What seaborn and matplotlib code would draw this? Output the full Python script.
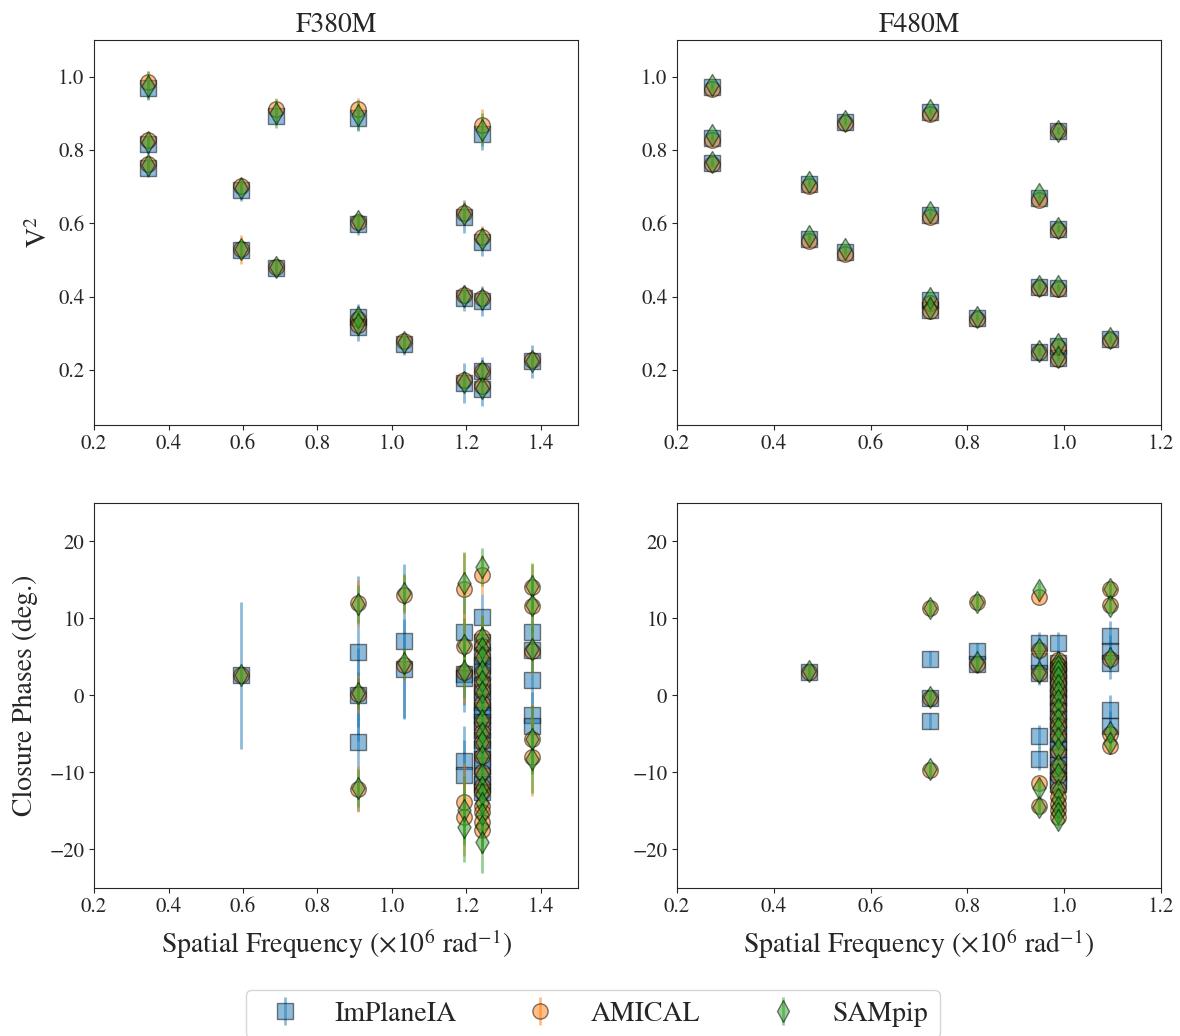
import numpy as np
import matplotlib
matplotlib.use("Agg")
import matplotlib.pyplot as plt
import seaborn as sns

sns.set_style("ticks")
plt.rcParams["font.family"] = ["STIXGeneral", "DejaVu Serif"]
plt.rcParams["mathtext.fontset"] = "stix"

methods = ["ImPlaneIA", "AMICAL", "SAMpip"]
markers = ["s", "o", "d"]
colors = sns.color_palette("tab10", 3)

# ---- squared visibilities, F380M ----
v2_freq_380 = [0.344, 0.344, 0.344, 0.596, 0.596, 0.689, 0.689, 0.910, 0.910, 0.910, 0.910,
               1.033, 1.193, 1.193, 1.193, 1.242, 1.242, 1.242, 1.242, 1.242, 1.376]
v2_380_implaneia = [0.970, 0.815, 0.752, 0.690, 0.527, 0.894, 0.478, 0.888, 0.598, 0.345, 0.318,
                    0.270, 0.618, 0.397, 0.165, 0.844, 0.550, 0.388, 0.196, 0.148, 0.224]
v2_380_amical = [0.985, 0.826, 0.763, 0.703, 0.529, 0.912, 0.482, 0.912, 0.604, 0.340, 0.322,
                 0.278, 0.629, 0.405, 0.172, 0.867, 0.562, 0.396, 0.197, 0.155, 0.226]
v2_380_sampip = [0.975, 0.822, 0.760, 0.697, 0.530, 0.900, 0.480, 0.895, 0.606, 0.344, 0.325,
                 0.275, 0.625, 0.402, 0.168, 0.855, 0.558, 0.393, 0.196, 0.152, 0.225]
v2e_380_implaneia = [0.030, 0.025, 0.025, 0.030, 0.025, 0.025, 0.025, 0.035, 0.030, 0.035, 0.040,
                     0.030, 0.045, 0.035, 0.055, 0.045, 0.040, 0.040, 0.040, 0.045, 0.045]
v2e_380_amical = [0.030, 0.020, 0.020, 0.020, 0.040, 0.030, 0.020, 0.030, 0.020, 0.020, 0.020,
                  0.020, 0.030, 0.020, 0.020, 0.045, 0.030, 0.020, 0.020, 0.020, 0.015]
v2e_380_sampip = [0.040, 0.020, 0.020, 0.020, 0.025, 0.040, 0.020, 0.040, 0.020, 0.020, 0.020,
                  0.020, 0.020, 0.020, 0.020, 0.045, 0.025, 0.020, 0.020, 0.020, 0.015]

# ---- squared visibilities, F480M ----
v2_freq_480 = [0.272, 0.272, 0.272, 0.473, 0.473, 0.547, 0.547, 0.723, 0.723, 0.723, 0.723,
               0.820, 0.948, 0.948, 0.948, 0.988, 0.988, 0.988, 0.988, 0.988, 1.094]
v2_480_implaneia = [0.971, 0.832, 0.764, 0.708, 0.557, 0.877, 0.522, 0.903, 0.622, 0.391, 0.364,
                    0.342, 0.668, 0.427, 0.249, 0.853, 0.585, 0.423, 0.266, 0.233, 0.284]
v2_480_amical = [0.966, 0.826, 0.762, 0.703, 0.552, 0.874, 0.517, 0.898, 0.617, 0.383, 0.360,
                 0.339, 0.663, 0.424, 0.248, 0.851, 0.582, 0.420, 0.262, 0.230, 0.282]
v2_480_sampip = [0.978, 0.840, 0.767, 0.712, 0.565, 0.880, 0.530, 0.910, 0.632, 0.395, 0.370,
                 0.345, 0.680, 0.430, 0.252, 0.853, 0.587, 0.428, 0.270, 0.236, 0.287]
v2e_480_implaneia = [0.010] * 21
v2e_480_amical = [0.008] * 21
v2e_480_sampip = [0.010] * 21

# ---- closure phases, F380M ----
cp_freq_380 = [0.596, 0.910, 0.910, 0.910, 1.033, 1.033, 1.193, 1.193, 1.193, 1.193, 1.193,
               1.242, 1.242, 1.242, 1.242, 1.242, 1.242, 1.242, 1.242, 1.242, 1.242,
               1.242, 1.242, 1.242, 1.242, 1.242, 1.242, 1.242, 1.242, 1.242,
               1.376, 1.376, 1.376, 1.376, 1.376]
cp_380_implaneia = [2.6, 5.7, 0.1, -6.0, 7.1, 3.4, 8.2, 2.8, 2.3, -8.5, -10.3,
                    10.2, 7.0, 5.2, 4.0, 3.0, 1.4, 0.4, -0.8, -1.9, -2.5,
                    -3.4, -4.5, -5.8, -7.0, -8.2, -9.1, -10.4, -11.5, -12.6,
                    8.3, 5.9, 2.0, -2.6, -4.0]
cp_380_amical = [2.7, 12.0, 0.2, -12.2, 13.1, 4.0, 13.8, 6.4, 3.0, -13.8, -15.8,
                 15.7, 7.6, 6.4, 5.1, 3.1, 1.8, 0.6, -1.0, -3.3, -4.8,
                 -6.1, -7.8, -10.0, -11.7, -12.5, -14.3, -15.1, -16.4, -17.5,
                 14.1, 11.6, 5.8, -5.6, -8.0]
cp_380_sampip = [2.7, 11.9, 0.3, -12.0, 13.3, 4.2, 14.6, 6.6, 3.2, -14.9, -17.1,
                 16.7, 7.4, 6.2, 5.0, 3.2, 1.9, 0.5, -1.2, -3.2, -4.9,
                 -6.0, -7.9, -10.2, -11.9, -12.8, -14.0, -15.4, -17.0, -19.0,
                 14.2, 11.7, 6.0, -5.7, -8.2]
cpe_380_implaneia = [9.6, 9.8, 6.0, 9.0, 10.0, 6.5, 4.5, 4.0, 4.5, 4.5, 4.5,
                     3.0, 3.5, 3.5, 3.5, 3.5, 3.5, 3.5, 3.5, 3.5, 3.5,
                     3.5, 3.5, 3.5, 3.5, 3.5, 3.5, 3.5, 3.5, 3.5,
                     3.0, 3.0, 3.0, 3.0, 3.0]
cpe_380_amical = [1.0, 3.0, 2.5, 3.0, 2.5, 2.0, 4.7, 4.0, 4.0, 5.0, 5.0,
                  2.5, 3.0, 3.0, 3.0, 3.0, 3.0, 3.0, 3.0, 3.0, 3.0,
                  3.0, 3.0, 3.0, 3.0, 3.0, 3.0, 3.0, 3.0, 3.0,
                  3.0, 3.0, 3.0, 4.5, 5.0]
cpe_380_sampip = [1.0, 2.5, 2.0, 2.5, 2.5, 2.0, 4.0, 3.5, 3.5, 4.5, 4.5,
                  2.5, 3.0, 3.0, 3.0, 3.0, 3.0, 3.0, 3.0, 3.0, 3.0,
                  3.0, 3.0, 3.0, 3.0, 3.0, 3.0, 3.0, 3.5, 4.0,
                  3.0, 3.5, 3.0, 4.5, 4.5]

# ---- closure phases, F480M ----
cp_freq_480 = [0.473, 0.723, 0.723, 0.723, 0.820, 0.820, 0.948, 0.948, 0.948, 0.948, 0.948,
               0.988, 0.988, 0.988, 0.988, 0.988, 0.988, 0.988, 0.988, 0.988, 0.988,
               0.988, 0.988, 0.988, 0.988, 0.988, 0.988, 0.988, 0.988, 0.988,
               1.094, 1.094, 1.094, 1.094, 1.094]
cp_480_implaneia = [3.1, 4.8, -0.3, -3.3, 5.8, 4.1, 6.8, 4.5, 2.9, -5.3, -8.2,
                    6.8, 4.2, 3.3, 2.5, 1.6, 0.8, -0.2, -1.0, -2.0, -3.0,
                    -4.0, -5.0, -6.0, -7.0, -8.0, -9.0, -10.0, -11.0, -11.5,
                    7.7, 5.8, 4.2, -1.9, -4.0]
cp_480_amical = [3.1, 11.3, -0.3, -9.7, 12.2, 4.1, 12.8, 5.9, 2.9, -11.4, -14.3,
                 4.6, 4.0, 3.4, 2.5, 1.6, 0.6, -0.5, -1.6, -2.9, -4.0,
                 -5.3, -7.2, -9.1, -10.4, -12.1, -13.2, -14.1, -14.9, -15.8,
                 13.8, 11.7, 4.7, -5.0, -6.5]
cp_480_sampip = [3.2, 11.4, -0.2, -9.6, 12.2, 4.3, 13.7, 6.0, 3.0, -12.0, -14.5,
                 4.4, 3.8, 3.2, 2.4, 1.4, 0.4, -0.6, -1.8, -3.0, -4.2,
                 -5.5, -7.0, -9.0, -10.2, -12.3, -13.5, -14.5, -15.3, -16.2,
                 13.8, 11.6, 4.9, -4.8, -6.2]
cpe_480_implaneia = [0.8, 1.0, 1.0, 1.0, 1.0, 1.0, 1.5, 1.5, 1.5, 1.5, 1.5,
                     1.5, 1.5, 1.5, 1.5, 1.5, 1.5, 1.5, 1.5, 1.5, 1.5,
                     1.5, 1.5, 1.5, 1.5, 1.5, 1.5, 1.5, 1.5, 1.5,
                     2.0, 2.0, 2.0, 2.0, 2.0]
cpe_480_amical = [0.8] * 35
cpe_480_sampip = [1.0] * 35

panels = [
    (v2_freq_380, [v2_380_implaneia, v2_380_amical, v2_380_sampip],
     [v2e_380_implaneia, v2e_380_amical, v2e_380_sampip]),
    (v2_freq_480, [v2_480_implaneia, v2_480_amical, v2_480_sampip],
     [v2e_480_implaneia, v2e_480_amical, v2e_480_sampip]),
    (cp_freq_380, [cp_380_implaneia, cp_380_amical, cp_380_sampip],
     [cpe_380_implaneia, cpe_380_amical, cpe_380_sampip]),
    (cp_freq_480, [cp_480_implaneia, cp_480_amical, cp_480_sampip],
     [cpe_480_implaneia, cpe_480_amical, cpe_480_sampip]),
]

fig, axes = plt.subplots(2, 2, figsize=(11.8, 10.36), dpi=100)
plt.subplots_adjust(left=0.0797, right=0.9839, top=0.9614, bottom=0.1429,
                    wspace=0.2045, hspace=0.2026)

for ax, (freq, vals, errs) in zip(axes.flat, panels):
    for i in range(3):
        ax.errorbar(freq, vals[i], yerr=errs[i], fmt="none", ecolor=colors[i],
                    alpha=0.5, elinewidth=2, zorder=2 + 2 * i)
        sns.scatterplot(x=freq, y=vals[i], marker=markers[i], color=colors[i],
                        s=125, alpha=0.5, edgecolor="k", linewidth=1.0,
                        zorder=3 + 2 * i, ax=ax, legend=False)
    ax.tick_params(labelsize=15)

for ax in axes[0]:
    ax.set_ylim(0.05, 1.1)
    ax.set_yticks([0.2, 0.4, 0.6, 0.8, 1.0])
for ax in axes[1]:
    ax.set_ylim(-25, 25)
    ax.set_yticks([-20, -10, 0, 10, 20])
for ax in axes[:, 0]:
    ax.set_xlim(0.2, 1.5)
    ax.set_xticks([0.2, 0.4, 0.6, 0.8, 1.0, 1.2, 1.4])
for ax in axes[:, 1]:
    ax.set_xlim(0.2, 1.2)
    ax.set_xticks([0.2, 0.4, 0.6, 0.8, 1.0, 1.2])

axes[0, 0].set_title("F380M", fontsize=20)
axes[0, 1].set_title("F480M", fontsize=20)
axes[0, 0].set_ylabel(r"V$^2$", fontsize=20)
axes[1, 0].set_ylabel("Closure Phases (deg.)", fontsize=20, labelpad=8)
for ax in axes[1]:
    ax.set_xlabel(r"Spatial Frequency ($\times10^6$ rad$^{-1}$)", fontsize=20, labelpad=7)

# legend proxies
handles = []
for i in range(3):
    h = axes[0, 0].errorbar([np.nan], [np.nan], yerr=[np.nan], fmt=markers[i],
                            color=colors[i], mec="k", ms=11, alpha=0.5,
                            elinewidth=2, label=methods[i])
    handles.append(h)
fig.legend(handles, methods, loc="lower center", bbox_to_anchor=(0.5025, -0.015),
           ncol=3, fontsize=20)

fig.savefig("out.png", dpi=100)
